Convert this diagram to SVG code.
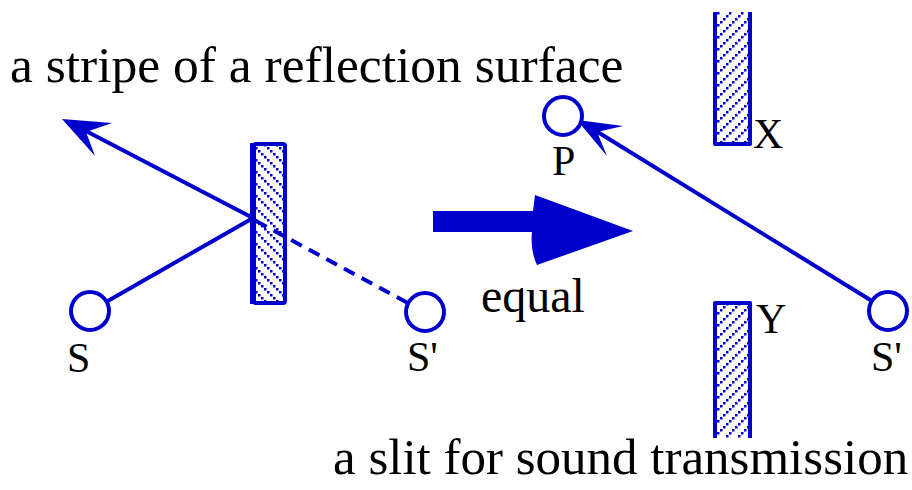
<svg xmlns="http://www.w3.org/2000/svg" width="912" height="490" viewBox="0 0 912 490">
<defs>
<style>
.ln{stroke:#0000cc;stroke-width:4;fill:none;stroke-linecap:butt}
.circ{stroke:#0000cc;stroke-width:4;fill:#fff}
.bd{stroke:#0000cc;stroke-width:4;fill:none;stroke-linejoin:round}
.ah{fill:#0000cc;stroke:none}
.t{font-family:"Liberation Serif","Times New Roman",serif;fill:#000}
</style>
<pattern id="hatchL" width="12" height="12" patternUnits="userSpaceOnUse">
<rect x="0" y="0" width="2.5" height="2.5" fill="#0000cc"/>
<rect x="3" y="3" width="2.5" height="2.5" fill="#0000cc"/>
<rect x="6" y="6" width="2.5" height="2.5" fill="#0000cc"/>
<rect x="9" y="9" width="2.5" height="2.5" fill="#0000cc"/>
</pattern>
<pattern id="hatchR" width="12" height="12" patternUnits="userSpaceOnUse">
<rect x="9" y="0" width="2.5" height="2.5" fill="#0000cc"/>
<rect x="6" y="3" width="2.5" height="2.5" fill="#0000cc"/>
<rect x="3" y="6" width="2.5" height="2.5" fill="#0000cc"/>
<rect x="0" y="9" width="2.5" height="2.5" fill="#0000cc"/>
</pattern>
</defs>
<rect width="912" height="490" fill="#fff"/>

<g id="connectors">
<line class="ln" x1="106" y1="302" x2="253" y2="218"/>
<line class="ln" x1="253" y1="218" x2="84" y2="130"/>
<polygon class="ah" points="62,119 112,123 86,132 95,156"/>
<line class="ln" x1="256" y1="221" x2="408" y2="303" stroke-dasharray="12,8"/>
<line class="ln" x1="872" y1="301" x2="596" y2="131"/>
<polygon class="ah" points="577,120 623,126 597,132 607,156"/>
</g>

<g id="stripe-left">
<rect x="254" y="144" width="31" height="159" fill="url(#hatchL)"/>
<rect class="bd" x="254" y="144" width="31" height="159" rx="2"/>
<line class="ln" x1="252" y1="143" x2="252" y2="304"/>
</g>

<g id="node-S">
<circle class="circ" cx="90" cy="311" r="19"/>
<text class="t" x="67" y="372" font-size="42">S</text>
</g>

<g id="node-S-image">
<circle class="circ" cx="425" cy="312" r="19"/>
<text class="t" x="407" y="371" font-size="42">S'</text>
</g>

<g id="big-arrow">
<path class="ah" d="M433,211 H533 L535,195 L633,231 L537,265 Q530,250 532,232 H433 Z"/>
<text class="t" x="481" y="312" font-size="48">equal</text>
</g>

<g id="slit-X">
<rect x="716" y="12" width="34" height="132" fill="url(#hatchR)"/>
<path class="bd" d="M715,12 V144 H750 V12"/>
<text class="t" x="753" y="148" font-size="42">X</text>
</g>

<g id="slit-Y">
<rect x="716" y="304" width="34" height="134" fill="url(#hatchR)"/>
<path class="bd" d="M715,438 V303 H750 V438"/>
<text class="t" x="756" y="333" font-size="42">Y</text>
</g>

<g id="node-P">
<circle class="circ" cx="563" cy="116" r="19"/>
<text class="t" x="552" y="175" font-size="42">P</text>
</g>

<g id="node-S-right">
<circle class="circ" cx="888" cy="311" r="19"/>
<text class="t" x="871" y="371" font-size="42">S'</text>
</g>

<text class="t" x="10" y="82" font-size="51.5">a stripe of a reflection surface</text>
<text class="t" x="333" y="474" font-size="51">a slit for sound transmission</text>
</svg>
